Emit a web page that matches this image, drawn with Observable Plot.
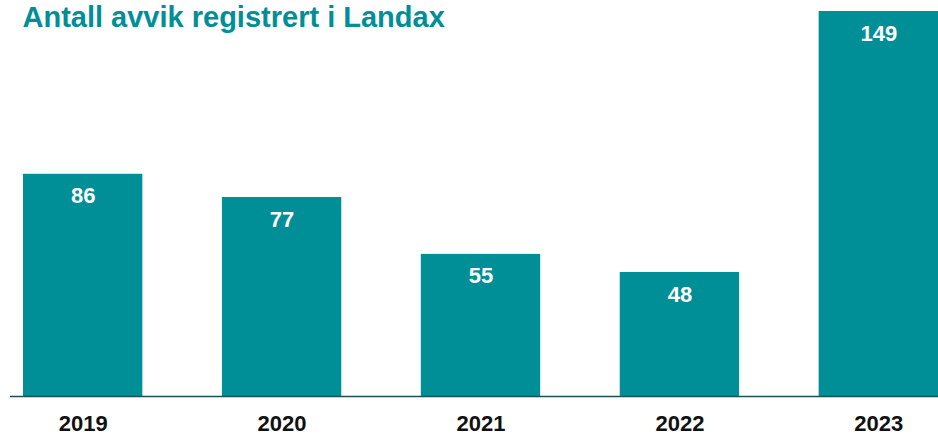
<!DOCTYPE html>
<html>
<head>
<meta charset="utf-8">
<script src="https://cdn.jsdelivr.net/npm/d3@7"></script>
<script src="https://cdn.jsdelivr.net/npm/@observablehq/plot@0.6"></script>
<style>
  html, body { margin: 0; padding: 0; background: #fff; }
  #chart { position: relative; width: 938px; height: 436px; }
</style>
</head>
<body>
<div id="chart"></div>
<script>
const title = "Antall avvik registrert i Landax";
const years = ["2019", "2020", "2021", "2022", "2023"];
const counts = [86, 77, 55, 48, 149];

const data = years.map((y, i) => ({year: y, count: counts[i]}));
const teal = "#008E97";
const font = "Liberation Sans, Arial, Helvetica, sans-serif";

const chart = Plot.plot({
  width: 938,
  height: 436,
  marginTop: 11,
  marginBottom: 40,
  marginLeft: 10,
  marginRight: 0,
  style: {fontFamily: font, background: "#fff"},
  x: {domain: years, range: [23, 938], paddingInner: 0.4, paddingOuter: 0, round: false, label: null},
  y: {domain: [0, 149], axis: null},
  marks: [
    Plot.barY(data, {x: "year", y: "count", fill: teal}),
    Plot.ruleY([0], {stroke: "#1d4f5b", strokeWidth: 1.5}),
    Plot.text(data, {x: "year", y: "count", text: d => String(d.count), fill: "#fff",
      fontSize: 22, fontWeight: "bold", lineAnchor: "middle", dy: 22}),
    Plot.axisX({tickSize: 0, tickPadding: 19, fontSize: 22, fontWeight: "bold", color: "#111", label: null}),
    Plot.text([title], {frameAnchor: "top-left", dx: 12, dy: -5, text: d => d, fill: teal,
      fontSize: 29, fontWeight: "bold", textAnchor: "start", lineAnchor: "top"})
  ]
});
document.getElementById("chart").appendChild(chart);
</script>
</body>
</html>
